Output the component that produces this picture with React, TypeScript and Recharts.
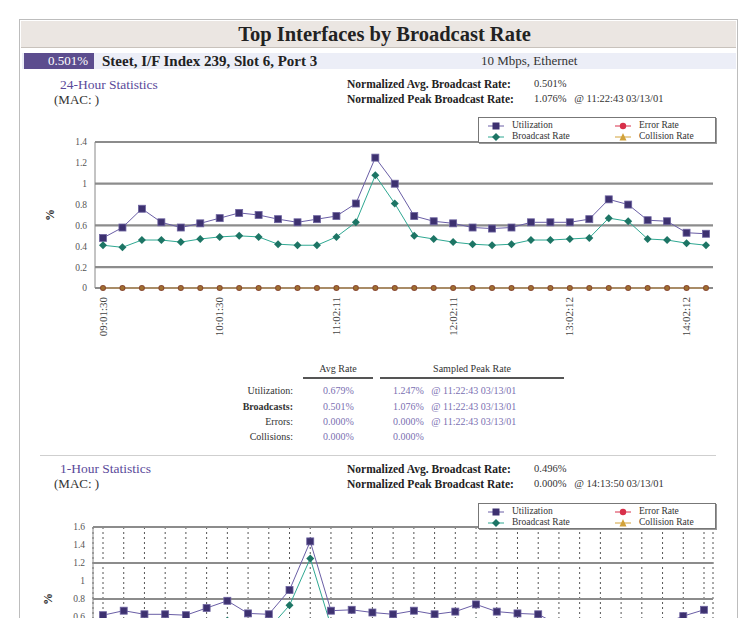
import React from 'react';
import { LineChart, Line, XAxis, YAxis, CartesianGrid, Label } from 'recharts';

// ---- 24-hour statistics ----
const dayUtilization = [0.48, 0.58, 0.76, 0.63, 0.58, 0.62, 0.67, 0.72, 0.70, 0.66, 0.63, 0.66, 0.69, 0.81, 1.25, 1.00, 0.69, 0.64, 0.62, 0.58, 0.57, 0.58, 0.63, 0.63, 0.63, 0.66, 0.85, 0.80, 0.65, 0.64, 0.53, 0.52];
const dayBroadcast = [0.41, 0.39, 0.46, 0.46, 0.44, 0.47, 0.49, 0.50, 0.49, 0.42, 0.41, 0.41, 0.49, 0.63, 1.08, 0.81, 0.50, 0.47, 0.44, 0.42, 0.41, 0.42, 0.46, 0.46, 0.47, 0.48, 0.67, 0.64, 0.47, 0.46, 0.43, 0.41];
const dayErrors = [0, 0, 0, 0, 0, 0, 0, 0, 0, 0, 0, 0, 0, 0, 0, 0, 0, 0, 0, 0, 0, 0, 0, 0, 0, 0, 0, 0, 0, 0, 0, 0];
const dayCollisions = [0, 0, 0, 0, 0, 0, 0, 0, 0, 0, 0, 0, 0, 0, 0, 0, 0, 0, 0, 0, 0, 0, 0, 0, 0, 0, 0, 0, 0, 0, 0, 0];
const dayTickIdx = [0, 6, 12, 18, 24, 30];
const dayTickLabels = ['09:01:30', '10:01:30', '11:02:11', '12:02:11', '13:02:12', '14:02:12'];
const dayYTicks = [0, 0.2, 0.4, 0.6, 0.8, 1, 1.2, 1.4];

// ---- 1-hour statistics ----
const hourUtilization = [0.62, 0.67, 0.63, 0.63, 0.62, 0.70, 0.78, 0.64, 0.63, 0.90, 1.44, 0.67, 0.68, 0.65, 0.63, 0.67, 0.63, 0.66, 0.74, 0.66, 0.64, 0.63, 0.51, 0.50, 0.52, 0.53, 0.51, 0.52, 0.61, 0.68];
const hourBroadcast = [0.48, 0.50, 0.47, 0.48, 0.46, 0.52, 0.56, 0.48, 0.47, 0.73, 1.25, 0.50, 0.51, 0.49, 0.47, 0.50, 0.47, 0.49, 0.55, 0.49, 0.48, 0.47, 0.40, 0.39, 0.41, 0.42, 0.40, 0.41, 0.46, 0.51];
const hourErrors = [0, 0, 0, 0, 0, 0, 0, 0, 0, 0, 0, 0, 0, 0, 0, 0, 0, 0, 0, 0, 0, 0, 0, 0, 0, 0, 0, 0, 0, 0];
const hourCollisions = [0, 0, 0, 0, 0, 0, 0, 0, 0, 0, 0, 0, 0, 0, 0, 0, 0, 0, 0, 0, 0, 0, 0, 0, 0, 0, 0, 0, 0, 0];
const hourYTicks = [0, 0.2, 0.4, 0.6, 0.8, 1, 1.2, 1.4, 1.6];

// ---- table ----
const tableRows = ['Utilization:', 'Broadcasts:', 'Errors:', 'Collisions:'];
const tableAvg = ['0.679%', '0.501%', '0.000%', '0.000%'];
const tablePeak = ['1.247%   @ 11:22:43 03/13/01', '1.076%   @ 11:22:43 03/13/01', '0.000%   @ 11:22:43 03/13/01', '0.000%'];
const tableRowY = [385, 401, 416, 431];

const SERIF = '"Liberation Serif", "DejaVu Serif", serif';
const C_UTIL = '#3d3170';
const C_UTIL_LINE = '#6a5ea6';
const C_BC = '#1d7565';
const C_BC_LINE = '#2fa892';
const C_ERR = '#d8304a';
const C_COL = '#d2a23a';

const dayData = dayUtilization.map((u, i) => ({
  i, util: u, bc: dayBroadcast[i], err: dayErrors[i], col: dayCollisions[i],
}));
const hourData = hourUtilization.map((u, i) => ({
  i, util: u, bc: hourBroadcast[i], err: hourErrors[i], col: hourCollisions[i],
}));

const SquareDot = (p: any) => {
  const { cx, cy, index } = p;
  if (cx == null || cy == null) return <g key={'s' + index} />;
  return <rect key={'s' + index} x={cx - 3.5} y={cy - 3.5} width={7} height={7} fill={C_UTIL} stroke="#6e64a0" strokeWidth={0.8} />;
};
const DiamondDot = (p: any) => {
  const { cx, cy, index } = p;
  if (cx == null || cy == null) return <g key={'d' + index} />;
  return <path key={'d' + index} d={`M${cx},${cy - 4} L${cx + 4},${cy} L${cx},${cy + 4} L${cx - 4},${cy} Z`} fill={C_BC} />;
};
const ErrDot = (p: any) => {
  const { cx, cy, index } = p;
  if (cx == null || cy == null) return <g key={'e' + index} />;
  return <circle key={'e' + index} cx={cx} cy={cy} r={3} fill="#8a4a30" />;
};
const ColDot = (p: any) => {
  const { cx, cy, index } = p;
  if (cx == null || cy == null) return <g key={'c' + index} />;
  return <circle key={'c' + index} cx={cx} cy={cy} r={2} fill="#a07030" />;
};

const fmtY = (v: number) => String(Number(v.toFixed(1)));

const LegendMark = ({ kind }: { kind: string }) => {
  const color = kind === 'util' ? C_UTIL : kind === 'bc' ? C_BC : kind === 'err' ? C_ERR : C_COL;
  const line = kind === 'util' ? C_UTIL_LINE : kind === 'bc' ? C_BC_LINE : kind === 'err' ? C_ERR : C_COL;
  return (
    <svg width={16} height={10} style={{ display: 'block' }}>
      <line x1={0} y1={5} x2={16} y2={5} stroke={line} strokeWidth={1} />
      {kind === 'util' && <rect x={4.5} y={1.5} width={7} height={7} fill={color} />}
      {kind === 'bc' && <path d="M8,1 L12,5 L8,9 L4,5 Z" fill={color} />}
      {kind === 'err' && <circle cx={8} cy={5} r={3.2} fill={color} />}
      {kind === 'col' && <path d="M8,1 L11.5,8.5 L4.5,8.5 Z" fill={color} />}
    </svg>
  );
};

const LegendBox = ({ x, y }: { x: number; y: number }) => {
  const item = (kind: string, text: string) => (
    <div style={{ display: 'flex', alignItems: 'center', height: 11 }}>
      <LegendMark kind={kind} />
      <span style={{ marginLeft: 8, fontSize: 9.5, lineHeight: '11px', color: '#333', fontFamily: SERIF }}>{text}</span>
    </div>
  );
  return (
    <div style={{
      position: 'absolute', left: x, top: y, width: 236, height: 22, border: '1px solid #777',
      boxShadow: '1px 1px 0 #999', background: '#fff', display: 'flex', paddingTop: 2, boxSizing: 'content-box',
    }}>
      <div style={{ width: 127, paddingLeft: 9 }}>
        {item('util', 'Utilization')}
        {item('bc', 'Broadcast Rate')}
      </div>
      <div style={{ width: 100 }}>
        {item('err', 'Error Rate')}
        {item('col', 'Collision Rate')}
      </div>
    </div>
  );
};

const RotTick = (p: any) => {
  const { x, y, payload } = p;
  const k = dayTickIdx.indexOf(payload.value);
  return (
    <text x={x} y={y} transform={`rotate(-90 ${x} ${y})`} dx={-1} dy={3.5} textAnchor="end"
      fontSize={11} fill="#444" fontFamily={SERIF}>{k >= 0 ? dayTickLabels[k] : ''}</text>
  );
};
const NoTick = (p: any) => <g key={'nt' + p.index} />;

const PctLabel = (p: any) => {
  const vb = p.viewBox || {};
  const x = (vb.x || 0) - 1;
  const y = (vb.y || 0) + (vb.height || 0) / 2;
  return <text x={x} y={y} transform={`rotate(-90 ${x} ${y})`} textAnchor="middle" fontSize={12} fontWeight="bold" fill="#222" fontFamily={SERIF}>%</text>;
};

const T = (props: { x: number; y: number; children: any; style?: React.CSSProperties }) => (
  <div style={{ position: 'absolute', left: props.x, top: props.y, whiteSpace: 'pre', fontFamily: SERIF, ...props.style }}>
    {props.children}
  </div>
);

const series = (prefix: string) => [
  <Line key={prefix + 'u'} dataKey="util" name="Utilization" stroke={C_UTIL_LINE} strokeWidth={1} dot={SquareDot} isAnimationActive={false} />,
  <Line key={prefix + 'b'} dataKey="bc" name="Broadcast Rate" stroke={C_BC_LINE} strokeWidth={1} dot={DiamondDot} isAnimationActive={false} />,
  <Line key={prefix + 'e'} dataKey="err" name="Error Rate" stroke={C_ERR} strokeWidth={1} dot={ErrDot} isAnimationActive={false} />,
  <Line key={prefix + 'c'} dataKey="col" name="Collision Rate" stroke={C_COL} strokeWidth={1.5} dot={ColDot} isAnimationActive={false} />,
];

const hdrLabel: React.CSSProperties = { fontSize: 11.5, fontWeight: 'bold', color: '#222', lineHeight: '14px' };
const hdrValue: React.CSSProperties = { fontSize: 10.5, color: '#333', lineHeight: '14px' };

export default function App() {
  return (
    <div style={{ position: 'absolute', left: 0, top: 0, width: 744, height: 618, overflow: 'hidden', background: '#fff', fontFamily: SERIF }}>
      {/* outer frame */}
      <div style={{ position: 'absolute', left: 19, top: 19, width: 717, height: 640, border: '1px solid #bdbdbd' }} />
      {/* title bar */}
      <div style={{ position: 'absolute', left: 21, top: 21, width: 715, height: 26, background: '#ebe6e2', borderBottom: '1px solid #c8c2bc' }} />
      <div style={{ position: 'absolute', left: 27, top: 21, width: 715, height: 26, textAlign: 'center', fontSize: 20.5, fontWeight: 'bold', lineHeight: '27px', color: '#222' }}>
        Top Interfaces by Broadcast Rate
      </div>
      {/* interface row */}
      <div style={{ position: 'absolute', left: 22, top: 53, width: 714, height: 16, background: '#eceef7' }} />
      <div style={{ position: 'absolute', left: 24, top: 53, width: 70, height: 16, background: '#5c4d8e', color: '#fff', fontSize: 13, lineHeight: '16px', textAlign: 'right', paddingRight: 6, boxSizing: 'border-box' }}>0.501%</div>
      <T x={102} y={53} style={{ fontSize: 15, fontWeight: 'bold', lineHeight: '16px', color: '#222' }}>Steet, I/F Index 239, Slot 6, Port 3</T>
      <T x={481} y={53} style={{ fontSize: 13, lineHeight: '16px', color: '#333' }}>10 Mbps, Ethernet</T>

      {/* 24-hour header */}
      <T x={60} y={77} style={{ fontSize: 13.5, color: '#5a4a9a', lineHeight: '16px' }}>24-Hour Statistics</T>
      <T x={54} y={92} style={{ fontSize: 13, color: '#333', lineHeight: '16px' }}>(MAC: )</T>
      <T x={347} y={77} style={hdrLabel}>Normalized Avg. Broadcast Rate:</T>
      <T x={534} y={77} style={hdrValue}>0.501%</T>
      <T x={347} y={92} style={hdrLabel}>Normalized Peak Broadcast Rate:</T>
      <T x={534} y={92} style={hdrValue}>{'1.076%   @ 11:22:43 03/13/01'}</T>

      {/* chart 1 */}
      <div style={{ position: 'absolute', left: 0, top: 114 }}>
        <LineChart width={744} height={234} data={dayData} margin={{ top: 28, right: 31, left: 55, bottom: 0 }}>
          <CartesianGrid vertical={false} stroke="#8c8c8c" strokeWidth={2.2} />
          <XAxis dataKey="i" type="number" domain={[0, 31]} ticks={dayTickIdx} padding={{ left: 8, right: 7 }}
            height={60} tickLine={false} axisLine={{ stroke: '#888' }} tick={RotTick} interval={0} />
          <YAxis domain={[0, 1.4]} ticks={dayYTicks} width={40} tickFormatter={fmtY} tickLine={false}
            axisLine={{ stroke: '#888' }} tick={{ fontSize: 9.5, fill: '#555', fontFamily: SERIF }} tickMargin={2}>
            <Label content={PctLabel} />
          </YAxis>
          <YAxis yAxisId="r" orientation="right" domain={[0, 1.4]} width={0} tick={false} tickLine={false} axisLine={{ stroke: '#888' }} />
          {series('d')}
        </LineChart>
      </div>
      <LegendBox x={478} y={117} />

      {/* table */}
      <T x={303} y={363} style={{ width: 70, textAlign: 'center', fontSize: 10, color: '#333' }}>Avg Rate</T>
      <T x={380} y={363} style={{ width: 184, textAlign: 'center', fontSize: 10, color: '#333' }}>Sampled Peak Rate</T>
      <div style={{ position: 'absolute', left: 303, top: 377, width: 70, height: 1.5, background: '#555' }} />
      <div style={{ position: 'absolute', left: 380, top: 377, width: 184, height: 1.5, background: '#555' }} />
      {tableRows.map((r, k) => (
        <React.Fragment key={r}>
          <T x={193} y={tableRowY[k]} style={{ width: 100, textAlign: 'right', fontSize: 10, color: '#333', fontWeight: k === 1 ? 'bold' : 'normal' }}>{r}</T>
          <T x={323} y={tableRowY[k]} style={{ fontSize: 10, color: '#7a6fb2' }}>{tableAvg[k]}</T>
          <T x={393} y={tableRowY[k]} style={{ fontSize: 10, color: '#7a6fb2' }}>{tablePeak[k]}</T>
        </React.Fragment>
      ))}
      <div style={{ position: 'absolute', left: 40, top: 455, width: 676, height: 1, background: '#cfcfcf' }} />

      {/* 1-hour header */}
      <T x={60} y={461} style={{ fontSize: 13.5, color: '#5a4a9a', lineHeight: '16px' }}>1-Hour Statistics</T>
      <T x={54} y={476} style={{ fontSize: 13, color: '#333', lineHeight: '16px' }}>(MAC: )</T>
      <T x={347} y={462} style={hdrLabel}>Normalized Avg. Broadcast Rate:</T>
      <T x={534} y={462} style={hdrValue}>0.496%</T>
      <T x={347} y={477} style={hdrLabel}>Normalized Peak Broadcast Rate:</T>
      <T x={534} y={477} style={hdrValue}>{'0.000%   @ 14:13:50 03/13/01'}</T>

      {/* chart 2 */}
      <div style={{ position: 'absolute', left: 0, top: 500 }}>
        <LineChart width={744} height={231} data={hourData} margin={{ top: 27, right: 31, left: 53, bottom: 0 }}>
          <CartesianGrid horizontal={false} stroke="#555" strokeWidth={1} strokeDasharray="2 3" />
          <CartesianGrid vertical={false} stroke="#8c8c8c" strokeWidth={2.2} />
          <XAxis dataKey="i" type="number" domain={[0, 29]} ticks={hourData.map((d) => d.i)} padding={{ left: 10, right: 9 }}
            height={60} tickLine={false} axisLine={{ stroke: '#888' }} tick={NoTick} interval={0} />
          <YAxis domain={[0, 1.6]} ticks={hourYTicks} width={40} tickFormatter={fmtY} tickLine={false}
            axisLine={{ stroke: '#888' }} tick={{ fontSize: 9.5, fill: '#555', fontFamily: SERIF }} tickMargin={2}>
            <Label content={PctLabel} />
          </YAxis>
          <YAxis yAxisId="r" orientation="right" domain={[0, 1.6]} width={0} tick={false} tickLine={false} axisLine={{ stroke: '#888' }} />
          {series('h')}
        </LineChart>
      </div>
      <LegendBox x={478} y={503} />
    </div>
  );
}
